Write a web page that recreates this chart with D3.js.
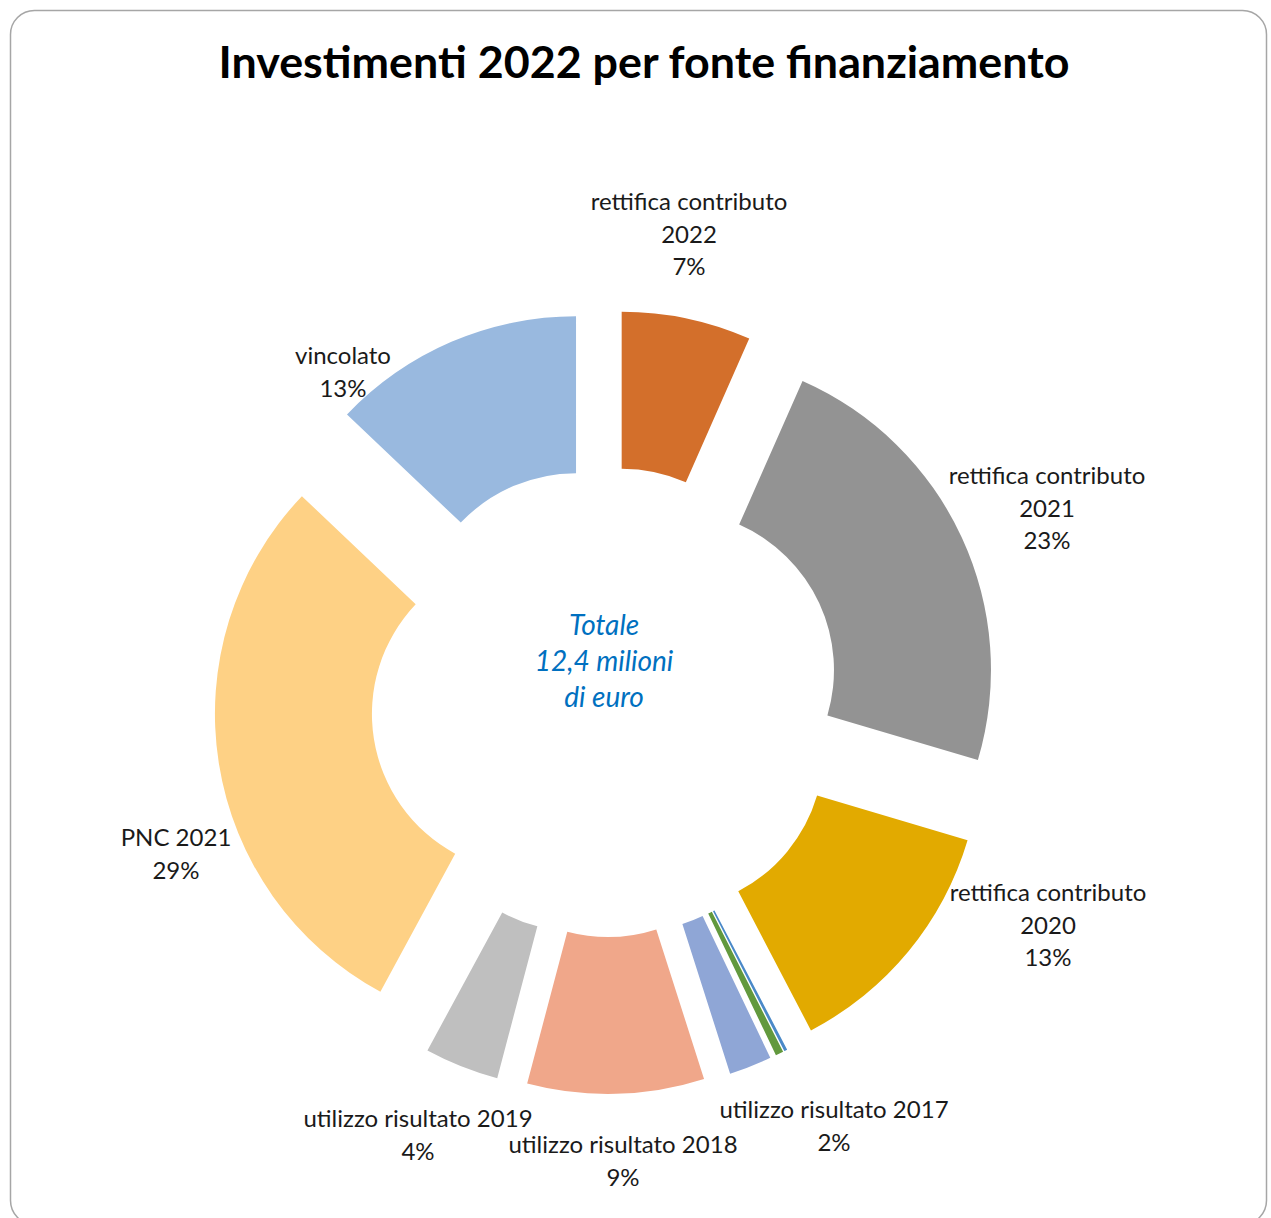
<!DOCTYPE html>
<html>
<head>
<meta charset="utf-8">
<script src="https://cdn.jsdelivr.net/npm/d3@7"></script>
<style>
  body { margin: 0; background: #fff; }
  text { font-family: Lato, "Open Sans", sans-serif; }
</style>
</head>
<body>
<svg width="1271" height="1218"></svg>
<script>
// values in milioni di euro, clockwise from 12 o'clock
var sources = ['rettifica contributo 2022', 'rettifica contributo 2021', 'rettifica contributo 2020',
    'altro A', 'altro B',
    'utilizzo risultato 2017', 'utilizzo risultato 2018', 'utilizzo risultato 2019',
    'PNC 2021', 'vincolato']
var amounts = [0.82, 2.85, 1.58, 0.02, 0.05, 0.27, 1.12, 0.47, 3.62, 1.6]
var colors = ['#D36F2B', '#939393', '#E2AA00', '#4A89C8', '#62993E',
    '#8FA6D6', '#F0A78A', '#BFBFBF', '#FED185', '#99B9DF']

// label text lines (without the percent) and where Excel put them
var labelLines = [['rettifica contributo', '2022'], ['rettifica contributo', '2021'], ['rettifica contributo', '2020'],
    null, null,
    ['utilizzo risultato 2017'], ['utilizzo risultato 2018'], ['utilizzo risultato 2019'],
    ['PNC 2021'], ['vincolato']]
var labelAt = [[689, 202], [1047, 476], [1048, 893], null, null,
    [834, 1110], [623, 1145], [418, 1119], [176, 838], [343, 356]]

var centerLines = ['Totale', '12,4 milioni', 'di euro']

var svg = d3.select('svg')
var cx = 606, cy = 702
var outerR = 316, innerR = 159
var explode = 76
var lineH = 32.5

// frame
svg.append('rect')
    .attr('x', 10.5).attr('y', 10.5)
    .attr('width', 1256).attr('height', 1214)
    .attr('rx', 24)
    .attr('fill', 'none')
    .attr('stroke', '#A6A6A6')
    .attr('stroke-width', 1.5)

svg.append('text')
    .attr('x', 644).attr('y', 78)
    .attr('text-anchor', 'middle')
    .attr('font-size', 44.8)
    .attr('font-weight', 'bold')
    .attr('fill', '#000')
    .text('Investimenti 2022 per fonte finanziamento')

var total = d3.sum(amounts)
var pct = d3.format('.0%')
var pie = d3.pie().sort(null).value(function (d) { return d })
var arc = d3.arc().innerRadius(innerR).outerRadius(outerR)
var slices = pie(amounts)

var g = svg.append('g').attr('transform', 'translate(' + cx + ',' + cy + ')')

g.selectAll('path')
    .data(slices)
    .enter().append('path')
    .attr('d', arc)
    .attr('fill', function (d, i) { return colors[i] })
    .attr('transform', function (d) {
        var mid = (d.startAngle + d.endAngle) / 2
        return 'translate(' + (Math.sin(mid) * explode) + ',' + (-Math.cos(mid) * explode) + ')'
    })

// data labels
slices.forEach(function (d, i) {
    if (!labelLines[i]) return
    var lines = labelLines[i].concat([pct(d.value / total)])
    var t = svg.append('text')
        .attr('text-anchor', 'middle')
        .attr('font-size', 24)
        .attr('fill', '#1a1a1a')
    lines.forEach(function (s, k) {
        t.append('tspan')
            .attr('x', labelAt[i][0])
            .attr('y', labelAt[i][1] + k * lineH)
            .attr('dy', '0.35em')
            .text(s)
    })
})

// centre text
var ct = svg.append('text')
    .attr('text-anchor', 'middle')
    .attr('font-size', 28)
    .attr('font-style', 'italic')
    .attr('fill', '#0070C0')
centerLines.forEach(function (s, k) {
    ct.append('tspan')
        .attr('x', 604)
        .attr('y', 625 + k * 36)
        .attr('dy', '0.35em')
        .text(s)
})
</script>
</body>
</html>
